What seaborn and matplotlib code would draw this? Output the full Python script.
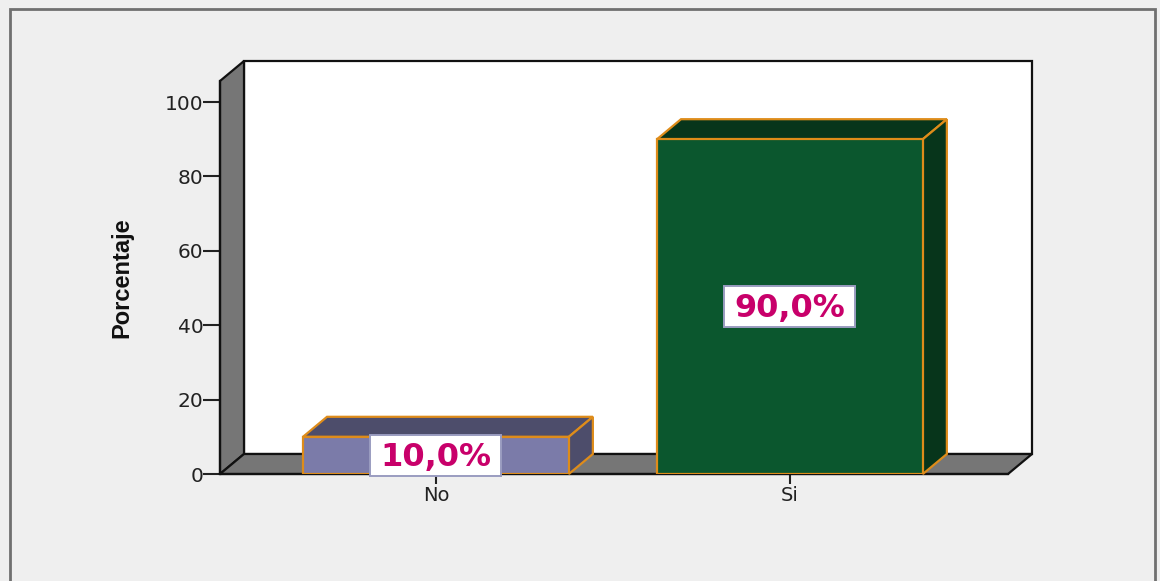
import matplotlib
matplotlib.use("Agg")
import matplotlib.pyplot as plt
from matplotlib.patches import Polygon, Rectangle
import seaborn as sns
import pandas as pd

categories = ["No", "Si"]
values = [10.0, 90.0]
value_labels = ["10,0%", "90,0%"]
yticks = [0, 20, 40, 60, 80, 100]
front_colors = ["#7B7BA9", "#0B572E"]
top_colors = ["#4D4D6B", "#07351B"]
side_colors = ["#4D4D6B", "#07351B"]
edge = "#DE8C1A"

W, H = 1160, 581
L, R, B, T = 220, 1008, 474, 81
DX, DY = 24, 20
sns.set_theme(style="white")
plt.rcParams["font.family"] = ["DejaVu Sans"]

fig = plt.figure(figsize=(W / 100, H / 100), dpi=100, facecolor="#EFEFEF")
ax = fig.add_axes([L / W, 1 - B / H, (R - L) / W, (B - T) / H])
df = pd.DataFrame({"cat": categories, "val": values})
sns.barplot(data=df, x="cat", y="val", hue="cat", palette=front_colors, legend=False,
            width=0.751, saturation=1, edgecolor=edge, linewidth=1.6, ax=ax, zorder=5)
ax.set_xlim(-0.61, 1.616)
ax.set_ylim(0, (B - T) / 3.72)
ax.patch.set_alpha(0)
ax.set_xlabel("")
ax.set_ylabel("Porcentaje", fontsize=17, fontweight="bold", color="#111111",
              family=["Liberation Sans", "DejaVu Sans"], labelpad=0)
ax.yaxis.set_label_coords((133 - L) / (R - L), (B - 278) / (B - T))
ax.set_yticks(yticks)
ax.tick_params(axis="y", length=12, width=1.5, color="#222222", labelsize=14.5, labelcolor="#222222", pad=0, left=True)
ax.tick_params(axis="x", length=7.5, width=1.5, color="#222222", labelsize=14, labelcolor="#222222", pad=1, bottom=True)
for s in ["top", "right"]:
    ax.spines[s].set_visible(False)
for s in ["left", "bottom"]:
    ax.spines[s].set_linewidth(1.6)
    ax.spines[s].set_color("#111111")

sx = (ax.get_xlim()[1] - ax.get_xlim()[0]) / (R - L)
sy = 1 / 3.72
dx, dy = DX * sx, DY * sy
x0, x1 = ax.get_xlim()
y0, y1 = ax.get_ylim()
wall = "#767676"
line = dict(edgecolor="#111111", linewidth=1.6, clip_on=False, joinstyle="miter")
ax.add_patch(Rectangle((x0 + dx, y0 + dy), x1 - x0, y1 - y0, facecolor="white", zorder=1, **line))
ax.add_patch(Polygon([(x0, y0), (x0 + dx, y0 + dy), (x0 + dx, y1 + dy), (x0, y1)], facecolor=wall, zorder=2, **line))
ax.add_patch(Polygon([(x0, y0), (x1, y0), (x1 + dx, y0 + dy), (x0 + dx, y0 + dy)], facecolor=wall, zorder=2, **line))

bars = [q for c in ax.containers for q in c]
box_w, box_h = 131 * sx, 41 * sy
for i, p in enumerate(bars):
    a, w, h = p.get_x(), p.get_width(), p.get_height()
    b = a + w
    style = dict(edgecolor=edge, linewidth=1.6, clip_on=False, zorder=4, joinstyle="miter")
    ax.add_patch(Polygon([(a, h), (b, h), (b + dx, h + dy), (a + dx, h + dy)], facecolor=top_colors[i], **style))
    ax.add_patch(Polygon([(b, 0), (b + dx, dy), (b + dx, h + dy), (b, h)], facecolor=side_colors[i], **style))
    cx, cy = a + w / 2, h / 2
    ax.add_patch(Rectangle((cx - box_w / 2, cy - box_h / 2), box_w, box_h, facecolor="white",
                           edgecolor="#9A9CC0", linewidth=1.4, clip_on=False, zorder=6))
    ax.text(cx, cy - 2 * sy, value_labels[i], ha="center", va="center", fontsize=23, fontweight="bold",
            color="#C8006A", zorder=7)

fig.add_artist(Rectangle((9.5 / W, -0.05), (1155 - 9.5) / W, 1 + 0.05 - 8.5 / H, transform=fig.transFigure,
                         facecolor="none", edgecolor="#707070", linewidth=2))
fig.savefig("out.png", dpi=100, facecolor=fig.get_facecolor())
